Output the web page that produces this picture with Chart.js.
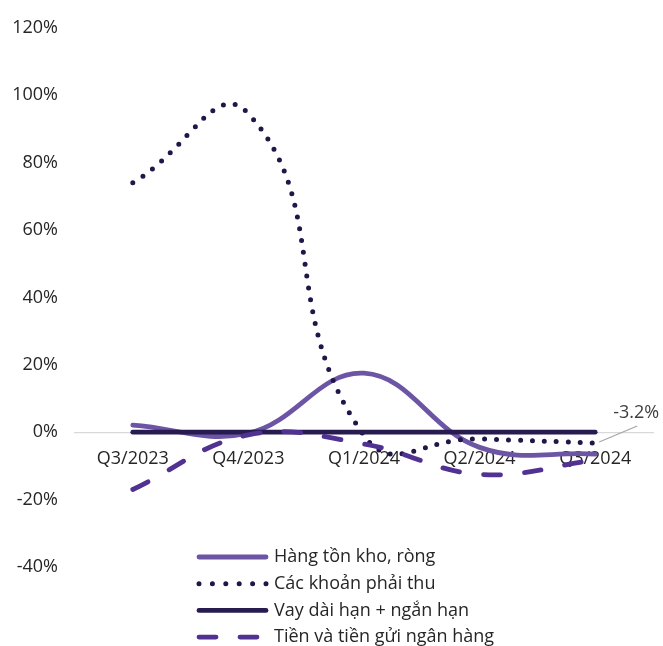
<!DOCTYPE html>
<html><head><meta charset="utf-8">
<script src="https://cdn.jsdelivr.net/npm/chart.js@4.4.1/dist/chart.umd.min.js"></script>
<style>html,body{margin:0;padding:0;background:#fff}</style>
</head><body>
<canvas id="c" width="663" height="646"></canvas>
<script>
const categories = ['Q3/2023','Q4/2023','Q1/2024','Q2/2024','Q3/2024'];
const hangTonKho = [2.1, -0.3, 17.5, -4.5, -6.5];
const khoanPhaiThu = [74, 94.5, -1, -2, -3.2];
const vayNo = [0, 0, 0, 0, 0];
const tienGui = [-17, -0.8, -3.5, -12.5, -8.3];
const seriesNames = ['Hàng tồn kho, ròng','Các khoản phải thu','Vay dài hạn + ngắn hạn','Tiền và tiền gửi ngân hàng'];
const yTicks = [-40, -20, 0, 20, 40, 60, 80, 100, 120];
const annotationText = '-3.2%';

const FONT = '"Open Sans", sans-serif';

const legendPlugin = {
  id: 'customLegend',
  afterDraw(chart) {
    const ctx = chart.ctx;
    ctx.save();
    chart.data.datasets.forEach((ds, i) => {
      const y = 557 + i * 26.7;
      ctx.beginPath();
      ctx.strokeStyle = ds.borderColor;
      ctx.lineWidth = ds.borderWidth;
      ctx.lineCap = ds.borderCapStyle || 'butt';
      ctx.setLineDash(ds.legendDash || ds.borderDash || []);
      ctx.moveTo(199, y);
      ctx.lineTo(266, y);
      ctx.stroke();
      ctx.setLineDash([]);
      ctx.fillStyle = '#262626';
      ctx.font = '18px ' + FONT;
      ctx.textBaseline = 'middle';
      ctx.textAlign = 'left';
      ctx.fillText(ds.label, 274, y);
    });
    ctx.restore();
  }
};

const annotationPlugin = {
  id: 'lastLabel',
  afterDatasetsDraw(chart) {
    const meta = chart.getDatasetMeta(1);
    const pt = meta.data[meta.data.length - 1];
    const ctx = chart.ctx;
    ctx.save();
    ctx.strokeStyle = '#a6a6a6';
    ctx.lineWidth = 1.3;
    ctx.beginPath();
    ctx.moveTo(pt.x + 4, pt.y - 1);
    ctx.lineTo(pt.x + 42, pt.y - 17);
    ctx.stroke();
    ctx.fillStyle = '#404040';
    ctx.font = '18px ' + FONT;
    ctx.textBaseline = 'middle';
    ctx.textAlign = 'left';
    ctx.fillText(annotationText, pt.x + 18, pt.y - 30);
    ctx.restore();
  }
};

new Chart(document.getElementById('c'), {
  type: 'line',
  data: {
    labels: categories,
    datasets: [
      { label: seriesNames[0], data: hangTonKho, borderColor: '#6c55a4', borderWidth: 4.8, borderCapStyle: 'round', order: 4 },
      { label: seriesNames[1], data: khoanPhaiThu, borderColor: '#201648', borderWidth: 5, borderDash: [0, 12], legendDash: [0, 13.4], borderCapStyle: 'round', tension: 0.5, order: 3 },
      { label: seriesNames[2], data: vayNo, borderColor: '#271b50', borderWidth: 4.8, borderCapStyle: 'round', order: 2 },
      { label: seriesNames[3], data: tienGui, borderColor: '#513192', borderWidth: 4.8, borderDash: [17, 24], legendDash: [17, 24], borderCapStyle: 'round', order: 1 }
    ]
  },
  options: {
    responsive: false,
    animation: false,
    devicePixelRatio: 1,
    layout: { padding: { top: 27, right: 10, bottom: 79, left: 0 } },
    elements: { point: { radius: 0 }, line: { tension: 0.4, fill: false } },
    plugins: { legend: { display: false }, tooltip: { enabled: false } },
    scales: {
      x: {
        type: 'category',
        offset: true,
        position: { y: 0 },
        grid: { display: false, drawTicks: false },
        border: { display: true, color: '#d9d9d9', width: 1.3 },
        ticks: { color: '#262626', font: { family: FONT, size: 18 }, padding: 16, maxRotation: 0, autoSkip: false }
      },
      y: {
        min: -40, max: 120,
        afterBuildTicks(scale) { scale.ticks = yTicks.map(v => ({ value: v })); },
        afterFit(scale) { scale.width = 75; },
        grid: { display: false, drawTicks: false },
        border: { display: false },
        ticks: { color: '#262626', font: { family: FONT, size: 18 }, padding: 17, callback: v => v + '%' }
      }
    }
  },
  plugins: [legendPlugin, annotationPlugin]
});
</script>
</body></html>
